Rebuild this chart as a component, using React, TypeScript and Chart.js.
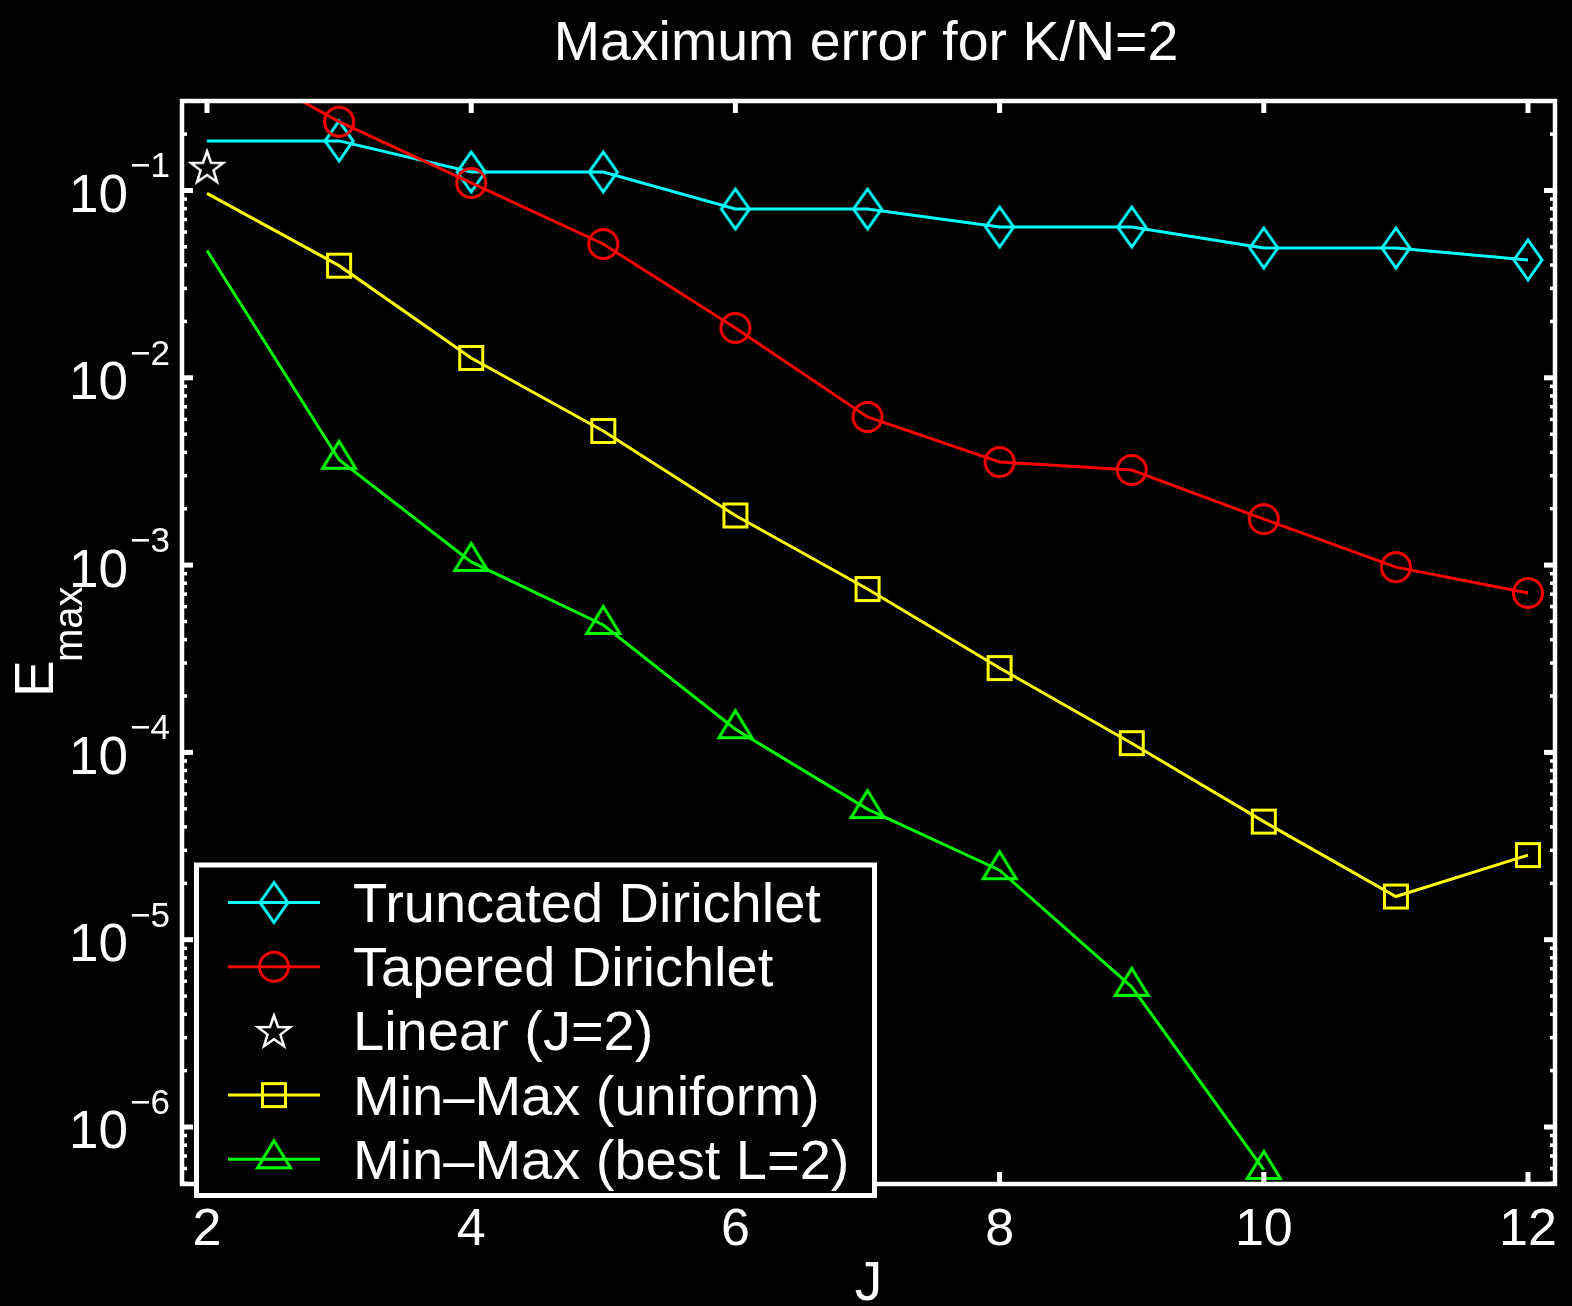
import React, { useEffect, useRef } from 'react';
import { Chart, registerables } from 'chart.js';

Chart.register(...registerables);

// ---------------- data ----------------
const J = [2, 3, 4, 5, 6, 7, 8, 9, 10, 11, 12];
const truncatedDirichlet = [0.184, 0.184, 0.1256, 0.1256, 0.0796, 0.0796, 0.0638, 0.0638, 0.0493, 0.0493, 0.0426];
const taperedDirichlet = [0.571, 0.233, 0.1097, 0.0518, 0.01845, 0.00618, 0.00355, 0.00322, 0.00176, 0.000975, 0.00071];
const linearJ = [2];
const linearValues = [0.134];
const minMaxUniform = [0.0966, 0.0397, 0.01276, 0.0052, 0.00184, 0.000745, 0.000282, 0.000112, 4.27e-5, 1.7e-5, 2.83e-5];
const J_best = [2, 3, 4, 5, 6, 7, 8, 9, 10];
const minMaxBest = [0.0478, 0.00365, 0.00104, 0.000479, 0.000133, 4.98e-5, 2.35e-5, 5.6e-6, 5.9e-7];

const xTickValues = [2, 4, 6, 8, 10, 12];
const yDecadeExponents = [-1, -2, -3, -4, -5, -6];

const seriesLabels = ['Truncated Dirichlet', 'Tapered Dirichlet', 'Linear (J=2)', 'Min\u2013Max (uniform)', 'Min\u2013Max (best L=2)'];
const seriesColors = ['#00ffff', '#ff0000', '#ffffff', '#ffff00', '#00ff00'];

const titleText = 'Maximum error for K/N=2';
const xTitleText = 'J';

const FONT = '"Liberation Sans", Arial, Helvetica, sans-serif';

// ---------------- marker images ----------------
function makeMarker(kind: string, color: string): HTMLCanvasElement {
  const c = document.createElement('canvas');
  const size = 50;
  c.width = size;
  c.height = size;
  const g = c.getContext('2d')!;
  const cx = size / 2;
  const cy = size / 2;
  g.strokeStyle = color;
  g.lineWidth = 3;
  g.lineJoin = 'miter';
  g.beginPath();
  if (kind === 'diamond') {
    g.moveTo(cx, cy - 20);
    g.lineTo(cx + 14, cy);
    g.lineTo(cx, cy + 20);
    g.lineTo(cx - 14, cy);
    g.closePath();
  } else if (kind === 'circle') {
    g.arc(cx, cy, 14.5, 0, Math.PI * 2);
  } else if (kind === 'square') {
    g.rect(cx - 11.5, cy - 11.5, 23, 23);
  } else if (kind === 'triangle') {
    g.moveTo(cx, cy - 18.5);
    g.lineTo(cx + 16.5, cy + 8.5);
    g.lineTo(cx - 16.5, cy + 8.5);
    g.closePath();
  } else if (kind === 'star') {
    g.lineWidth = 2.5;
    const R = 17;
    const r = 6.8;
    for (let i = 0; i < 10; i++) {
      const ang = -Math.PI / 2 + (i * Math.PI) / 5;
      const rad = i % 2 === 0 ? R : r;
      const px = cx + rad * Math.cos(ang);
      const py = cy + 1.5 + rad * Math.sin(ang);
      if (i === 0) g.moveTo(px, py);
      else g.lineTo(px, py);
    }
    g.closePath();
  }
  g.stroke();
  return c;
}

function pts(xs: number[], ys: number[]) {
  return xs.map((x, i) => ({ x, y: ys[i] }));
}

// ---------------- decoration plugin ----------------
const decorPlugin = {
  id: 'decor',
  beforeDraw(chart: any) {
    const ctx = chart.ctx;
    ctx.save();
    ctx.fillStyle = '#000000';
    ctx.fillRect(0, 0, chart.width, chart.height);
    ctx.restore();
  },
  afterDraw(chart: any) {
    const ctx: CanvasRenderingContext2D = chart.ctx;
    const a = chart.chartArea;
    const xs = chart.scales.x;
    const ys = chart.scales.y;
    ctx.save();
    ctx.fillStyle = '#ffffff';
    ctx.strokeStyle = '#ffffff';

    // box
    ctx.lineWidth = 4.5;
    ctx.strokeRect(a.left, a.top, a.right - a.left, a.bottom - a.top);

    // x ticks (inside, top & bottom)
    xTickValues.forEach((t) => {
      const px = xs.getPixelForValue(t);
      ctx.fillRect(px - 2.5, a.top - 2, 5, 14);
      ctx.fillRect(px - 2.5, a.bottom - 12, 5, 14);
    });

    // y ticks (major + minor), left & right
    for (let e = -8; e <= 1; e++) {
      for (let m = 1; m <= 9; m++) {
        const v = m * Math.pow(10, e);
        if (v < ys.min || v > ys.max) continue;
        const py = ys.getPixelForValue(v);
        const major = m === 1;
        const len = major ? 13 : 7;
        const w = major ? 5 : 3.5;
        ctx.fillRect(a.left - 2, py - w / 2, len, w);
        ctx.fillRect(a.right + 2 - len, py - w / 2, len, w);
      }
    }

    // x tick labels
    ctx.font = `52px ${FONT}`;
    ctx.textAlign = 'center';
    ctx.textBaseline = 'alphabetic';
    xTickValues.forEach((t) => {
      const px = xs.getPixelForValue(t);
      ctx.fillText(String(t), px, 1245);
    });

    // y tick labels 10^n
    yDecadeExponents.forEach((e) => {
      const py = ys.getPixelForValue(Math.pow(10, e));
      ctx.font = `53px ${FONT}`;
      ctx.textAlign = 'right';
      ctx.fillText('10', 128, py + 21.5);
      ctx.font = `35px ${FONT}`;
      ctx.textAlign = 'left';
      ctx.fillText('\u2212' + String(Math.abs(e)), 130, py - 13);
    });

    // title
    ctx.font = `55.5px ${FONT}`;
    ctx.textAlign = 'center';
    ctx.fillText(titleText, 866, 60);

    // x title
    ctx.font = `55px ${FONT}`;
    ctx.fillText(xTitleText, (a.left + a.right) / 2, 1300);

    // y title E_max
    ctx.save();
    ctx.translate(53, 697);
    ctx.rotate(-Math.PI / 2);
    ctx.textAlign = 'left';
    ctx.font = `55px ${FONT}`;
    ctx.fillText('E', 0, 0);
    ctx.font = `40px ${FONT}`;
    ctx.fillText('max', 35, 29);
    ctx.restore();

    // legend
    const lx0 = 196.5;
    const ly0 = 865;
    const lx1 = 874.5;
    const ly1 = 1195.5;
    ctx.fillStyle = '#000000';
    ctx.fillRect(lx0, ly0, lx1 - lx0, ly1 - ly0);
    ctx.lineWidth = 5;
    ctx.strokeStyle = '#ffffff';
    ctx.strokeRect(lx0, ly0, lx1 - lx0, ly1 - ly0);

    const datasets = chart.data.datasets;
    datasets.forEach((ds: any, i: number) => {
      const rowY = 902.5 + i * 64.2;
      if (ds.showLine !== false) {
        ctx.strokeStyle = ds.borderColor;
        ctx.lineWidth = 3;
        ctx.beginPath();
        ctx.moveTo(228, rowY);
        ctx.lineTo(320, rowY);
        ctx.stroke();
      }
      const img = ds.legendMarker as HTMLCanvasElement;
      ctx.drawImage(img, 274 - img.width / 2, rowY - img.height / 2);
      ctx.fillStyle = '#ffffff';
      ctx.font = `56px ${FONT}`;
      ctx.textAlign = 'left';
      ctx.fillText(ds.label, 353, rowY + 19.5);
    });

    ctx.restore();
  },
};

export default function App() {
  const canvasRef = useRef<HTMLCanvasElement | null>(null);

  useEffect(() => {
    document.body.style.margin = '0';
    document.body.style.background = '#000000';
    const canvas = canvasRef.current;
    if (!canvas) return;

    const markers = [
      makeMarker('diamond', seriesColors[0]),
      makeMarker('circle', seriesColors[1]),
      makeMarker('star', seriesColors[2]),
      makeMarker('square', seriesColors[3]),
      makeMarker('triangle', seriesColors[4]),
    ];

    const skipFirst = (ctx: any) => (ctx.dataIndex === 0 ? 0 : 16);

    const chart = new Chart(canvas, {
      type: 'line',
      data: {
        datasets: [
          {
            label: seriesLabels[0],
            data: pts(J, truncatedDirichlet),
            borderColor: seriesColors[0],
            borderWidth: 3,
            pointStyle: markers[0] as any,
            pointRadius: skipFirst as any,
            pointBorderWidth: 0,
            order: 5,
            clip: 0,
            legendMarker: markers[0],
          } as any,
          {
            label: seriesLabels[1],
            data: pts(J, taperedDirichlet),
            borderColor: seriesColors[1],
            borderWidth: 3,
            pointStyle: markers[1] as any,
            pointRadius: skipFirst as any,
            pointBorderWidth: 0,
            order: 4,
            clip: 0,
            legendMarker: markers[1],
          } as any,
          {
            label: seriesLabels[2],
            data: pts(linearJ, linearValues),
            borderColor: seriesColors[2],
            borderWidth: 0,
            showLine: false,
            pointStyle: markers[2] as any,
            pointRadius: 16,
            pointBorderWidth: 0,
            order: 3,
            clip: 0,
            legendMarker: markers[2],
          } as any,
          {
            label: seriesLabels[3],
            data: pts(J, minMaxUniform),
            borderColor: seriesColors[3],
            borderWidth: 3,
            pointStyle: markers[3] as any,
            pointRadius: skipFirst as any,
            pointBorderWidth: 0,
            order: 2,
            clip: 0,
            legendMarker: markers[3],
          } as any,
          {
            label: seriesLabels[4],
            data: pts(J_best, minMaxBest),
            borderColor: seriesColors[4],
            borderWidth: 3,
            pointStyle: markers[4] as any,
            pointRadius: skipFirst as any,
            pointBorderWidth: 0,
            order: 1,
            clip: 0,
            legendMarker: markers[4],
          } as any,
        ],
      },
      options: {
        animation: false,
        responsive: false,
        maintainAspectRatio: false,
        devicePixelRatio: 1,
        layout: { padding: { top: 101, right: 17, bottom: 0, left: 0 } },
        plugins: {
          legend: { display: false },
          title: { display: false },
          tooltip: { enabled: false },
        },
        elements: { line: { tension: 0 } },
        scales: {
          x: {
            type: 'linear',
            min: 1.8107,
            max: 12.2044,
            grid: { display: false },
            border: { display: false },
            ticks: { display: false },
            afterFit: (scale: any) => {
              scale.height = 122;
            },
          },
          y: {
            type: 'logarithmic',
            min: 4.962e-7,
            max: 0.3005,
            grid: { display: false },
            border: { display: false },
            ticks: { display: false },
            afterFit: (scale: any) => {
              scale.width = 182;
            },
          },
        },
      } as any,
      plugins: [decorPlugin],
    });

    return () => {
      chart.destroy();
    };
  }, []);

  return (
    <div style={{ width: 1572, height: 1306, background: '#000000' }}>
      <canvas ref={canvasRef} width={1572} height={1306} style={{ display: 'block', width: 1572, height: 1306 }} />
    </div>
  );
}
